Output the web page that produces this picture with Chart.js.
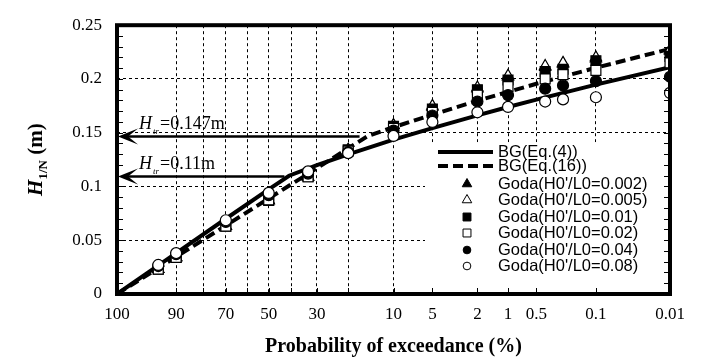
<!DOCTYPE html>
<html>
<head>
<meta charset="utf-8">
<script src="https://cdn.jsdelivr.net/npm/chart.js@4.4.0/dist/chart.umd.min.js"></script>
<style>
  html, body { margin: 0; padding: 0; background: #fff; }
  #wrap { width: 712px; height: 358px; }
</style>
</head>
<body>
<div id="wrap"><canvas id="c"></canvas></div>
<script>
// probability paper (Rayleigh): axis position = sqrt(ln(100/P))
const U = (p) => Math.sqrt(Math.log(100 / p));

// x axis: grid lines and labelled ticks (% exceedance)
const gridProbs = [100, 90, 80, 70, 60, 50, 40, 30, 20, 10, 5, 2, 1, 0.5, 0.1, 0.01];
const labelProbs = [100, 90, 70, 50, 30, 10, 5, 2, 1, 0.5, 0.1, 0.01];

// BG composite Weibull curves
const bg4Prob = [100, 90, 70, 50, 41, 30, 20, 10, 5, 2, 1, 0.5, 0.1, 0.01];
const bgEq4 = [0, 0.038, 0.070, 0.0974, 0.110, 0.1198, 0.1299, 0.1435, 0.1543, 0.1662, 0.1739, 0.1808, 0.1947, 0.211];
const bg16Prob = [100, 90, 70, 50, 30, 20, 15, 10, 5, 2, 1, 0.5, 0.1, 0.01];
const bgEq16 = [0, 0.0346, 0.0637, 0.0888, 0.117, 0.1354, 0.147, 0.1551, 0.1668, 0.1797, 0.188, 0.1955, 0.2104, 0.228];

// Goda simulations
const godaProb = [95, 90, 70, 50, 33.3, 20, 10, 5, 2, 1, 0.4, 0.25, 0.1, 0.01];
const goda002 = [0.023, 0.034, 0.063, 0.087, 0.109, 0.134, 0.157, 0.174, 0.191, 0.202, 0.211, 0.214, 0.219, 0.226];
const goda005 = [0.023, 0.034, 0.063, 0.087, 0.109, 0.134, 0.157, 0.175, 0.192, 0.203, 0.212, 0.215, 0.220, 0.227];
const goda01 = [0.023, 0.034, 0.063, 0.087, 0.109, 0.134, 0.156, 0.172, 0.190, 0.199, 0.207, 0.209, 0.217, 0.221];
const goda02 = [0.023, 0.034, 0.063, 0.0875, 0.109, 0.133, 0.154, 0.169, 0.185, 0.193, 0.200, 0.204, 0.208, 0.215];
const goda04 = [0.026, 0.037, 0.067, 0.092, 0.112, 0.132, 0.152, 0.166, 0.179, 0.185, 0.191, 0.194, 0.198, 0.202];
const goda08 = [0.027, 0.038, 0.0686, 0.094, 0.114, 0.131, 0.147, 0.160, 0.169, 0.174, 0.179, 0.181, 0.183, 0.187];

// transition heights and where their arrows stop
const htrValues = [0.147, 0.11];
const htrLabels = ["=0.147m", "=0.11m"];
const htrEndProb = [17, 43];

const legendLabels = [
  "BG(Eq.(4))", "BG(Eq.(16))",
  "Goda(H0'/L0=0.002)", "Goda(H0'/L0=0.005)", "Goda(H0'/L0=0.01)",
  "Goda(H0'/L0=0.02)", "Goda(H0'/L0=0.04)", "Goda(H0'/L0=0.08)"
];

const pts = (probs, vals) => probs.map((p, i) => ({ x: U(p), y: vals[i] }));
const SERIF = '"Liberation Serif", "Times New Roman", serif';
const SANS = '"Liberation Sans", Arial, sans-serif';

function marker(style, filled, r, order, probs, vals) {
  return {
    data: pts(probs, vals), showLine: false, order,
    pointStyle: style, pointRadius: r, pointHoverRadius: r,
    pointBackgroundColor: filled ? "#000" : "#fff",
    pointBorderColor: "#000", pointBorderWidth: 1.2
  };
}

function drawMark(ctx, style, filled, cx, cy, r) {
  ctx.beginPath();
  if (style === "triangle") {
    ctx.moveTo(cx, cy - r);
    ctx.lineTo(cx + r * 0.866, cy + r * 0.5);
    ctx.lineTo(cx - r * 0.866, cy + r * 0.5);
    ctx.closePath();
  } else if (style === "rect") {
    ctx.rect(cx - r * 0.72, cy - r * 0.72, r * 1.44, r * 1.44);
  } else {
    ctx.arc(cx, cy, r * 0.7, 0, Math.PI * 2);
  }
  ctx.fillStyle = filled ? "#000" : "#fff";
  ctx.fill();
  ctx.lineWidth = 1;
  ctx.strokeStyle = "#000";
  ctx.stroke();
}

const overlay = {
  id: "overlay",
  afterDraw(chart) {
    const { ctx, chartArea: a, scales: { x, y } } = chart;
    ctx.save();

    // legend box (white, hides grid)
    const lx = a.left + 308, ly = a.top + 117;
    ctx.fillStyle = "#fff";
    ctx.fillRect(lx, ly, a.right - lx, a.bottom - ly);

    const rowY = [152, 166, 184, 200, 217, 233, 250, 266];
    ctx.strokeStyle = "#000";
    ctx.lineWidth = 4;
    ctx.beginPath(); ctx.moveTo(438, rowY[0]); ctx.lineTo(493, rowY[0]); ctx.stroke();
    ctx.setLineDash([10, 5]);
    ctx.beginPath(); ctx.moveTo(438, rowY[1]); ctx.lineTo(493, rowY[1]); ctx.stroke();
    ctx.setLineDash([]);
    const lm = [["triangle", true], ["triangle", false], ["rect", true], ["rect", false], ["circle", true], ["circle", false]];
    lm.forEach((m, i) => drawMark(ctx, m[0], m[1], 467, rowY[i + 2], 5.5));
    ctx.fillStyle = "#000";
    ctx.font = "16.5px " + SANS;
    ctx.textBaseline = "middle";
    ctx.textAlign = "left";
    legendLabels.forEach((t, i) => ctx.fillText(t, 498, rowY[i] + 0.5));

    // Htr arrows
    htrValues.forEach((v, i) => {
      const yy = Math.round(y.getPixelForValue(v)) + 0.5;
      const x0 = a.left + 1, x1 = x.getPixelForValue(U(htrEndProb[i]));
      ctx.lineWidth = 2.5;
      ctx.beginPath(); ctx.moveTo(x1, yy); ctx.lineTo(x0 + 8, yy); ctx.stroke();
      ctx.beginPath();
      ctx.moveTo(x0, yy);
      ctx.lineTo(x0 + 20, yy - 8);
      ctx.lineTo(x0 + 10, yy);
      ctx.lineTo(x0 + 20, yy + 8);
      ctx.closePath();
      ctx.fillStyle = "#000";
      ctx.fill();
      ctx.textBaseline = "alphabetic";
      ctx.font = "italic 18px " + SERIF;
      ctx.fillText("H", 139, yy - 8);
      ctx.font = "italic 9px " + SERIF;
      ctx.fillText("tr", 153, yy - 3);
      ctx.font = "18px " + SERIF;
      ctx.fillText(htrLabels[i], 160, yy - 8);
    });

    // frame
    ctx.lineWidth = 4;
    ctx.strokeStyle = "#000";
    ctx.strokeRect(a.left, a.top, a.right - a.left, a.bottom - a.top);

    // inner minor ticks
    ctx.lineWidth = 1;
    ctx.beginPath();
    for (let k = 1; k < 25; k++) {
      const yy = Math.round(y.getPixelForValue(k / 100)) + 0.5;
      ctx.moveTo(a.left, yy); ctx.lineTo(a.left + 6, yy);
      ctx.moveTo(a.right, yy); ctx.lineTo(a.right - 6, yy);
    }
    gridProbs.forEach((p) => {
      const xx = Math.round(x.getPixelForValue(U(p))) + 0.5;
      ctx.moveTo(xx, a.bottom); ctx.lineTo(xx, a.bottom - 6);
    });
    ctx.stroke();

    // x title
    ctx.fillStyle = "#000";
    ctx.font = "bold 20px " + SERIF;
    ctx.textAlign = "center";
    ctx.textBaseline = "middle";
    ctx.fillText("Probability of exceedance (%)", (a.left + a.right) / 2, 347);

    // y title: H_{1/N} (m), rotated
    ctx.translate(35, (a.top + a.bottom) / 2);
    ctx.rotate(-Math.PI / 2);
    ctx.textAlign = "left";
    ctx.textBaseline = "alphabetic";
    const fH = "bold italic 21px " + SERIF, fS = "bold 13px " + SERIF, fM = "bold 21px " + SERIF;
    ctx.font = fH; const wH = ctx.measureText("H").width;
    ctx.font = fS; const wS = ctx.measureText("1/N").width;
    ctx.font = fM; const wM = ctx.measureText(" (m)").width;
    let cx = -(wH + wS + wM) / 2;
    ctx.font = fH; ctx.fillText("H", cx, 7); cx += wH;
    ctx.font = fS; ctx.fillText("1/N", cx, 12); cx += wS;
    ctx.font = fM; ctx.fillText(" (m)", cx, 7);

    ctx.restore();
  }
};

new Chart(document.getElementById("c"), {
  type: "scatter",
  data: {
    datasets: [
      { data: pts(bg4Prob, bgEq4), showLine: true, borderColor: "#000", borderWidth: 4, pointRadius: 0, order: 8 },
      { data: pts(bg16Prob, bgEq16), showLine: true, borderColor: "#000", borderWidth: 4, borderDash: [10, 5], pointRadius: 0, order: 7 },
      marker("triangle", true, 6.5, 6, godaProb, goda002),
      marker("triangle", false, 6.5, 5, godaProb, goda005),
      marker("rect", true, 7, 4, godaProb, goda01),
      marker("rect", false, 7, 3, godaProb, goda02),
      marker("circle", true, 5.5, 2, godaProb, goda04),
      marker("circle", false, 5.5, 1, godaProb, goda08)
    ]
  },
  options: {
    responsive: true,
    maintainAspectRatio: false,
    animation: false,
    layout: { padding: { top: 17, right: 42, left: 0, bottom: 0 } },
    plugins: { legend: { display: false }, tooltip: { enabled: false } },
    scales: {
      x: {
        type: "linear", min: 0, max: U(0.01),
        afterBuildTicks: (s) => { s.ticks = gridProbs.map((p) => ({ value: U(p) })); },
        afterFit: (s) => { s.height = 64; },
        ticks: {
          autoSkip: false, maxRotation: 0, padding: 10, color: "#000",
          font: { family: SERIF, size: 17 },
          callback: (v, i) => (labelProbs.includes(gridProbs[i]) ? String(gridProbs[i]) : "")
        },
        grid: { color: "#000", lineWidth: 1, drawTicks: false },
        border: { display: false, dash: [3, 3] }
      },
      y: {
        min: 0, max: 0.25,
        afterFit: (s) => { s.width = 117; },
        ticks: {
          stepSize: 0.05, padding: 15, color: "#000",
          font: { family: SERIF, size: 17 },
          callback: (v) => String(Number(v.toFixed(2)))
        },
        grid: { color: "#000", lineWidth: 1, drawTicks: false },
        border: { display: false, dash: [3, 3] }
      }
    }
  },
  plugins: [overlay]
});
</script>
</body>
</html>
